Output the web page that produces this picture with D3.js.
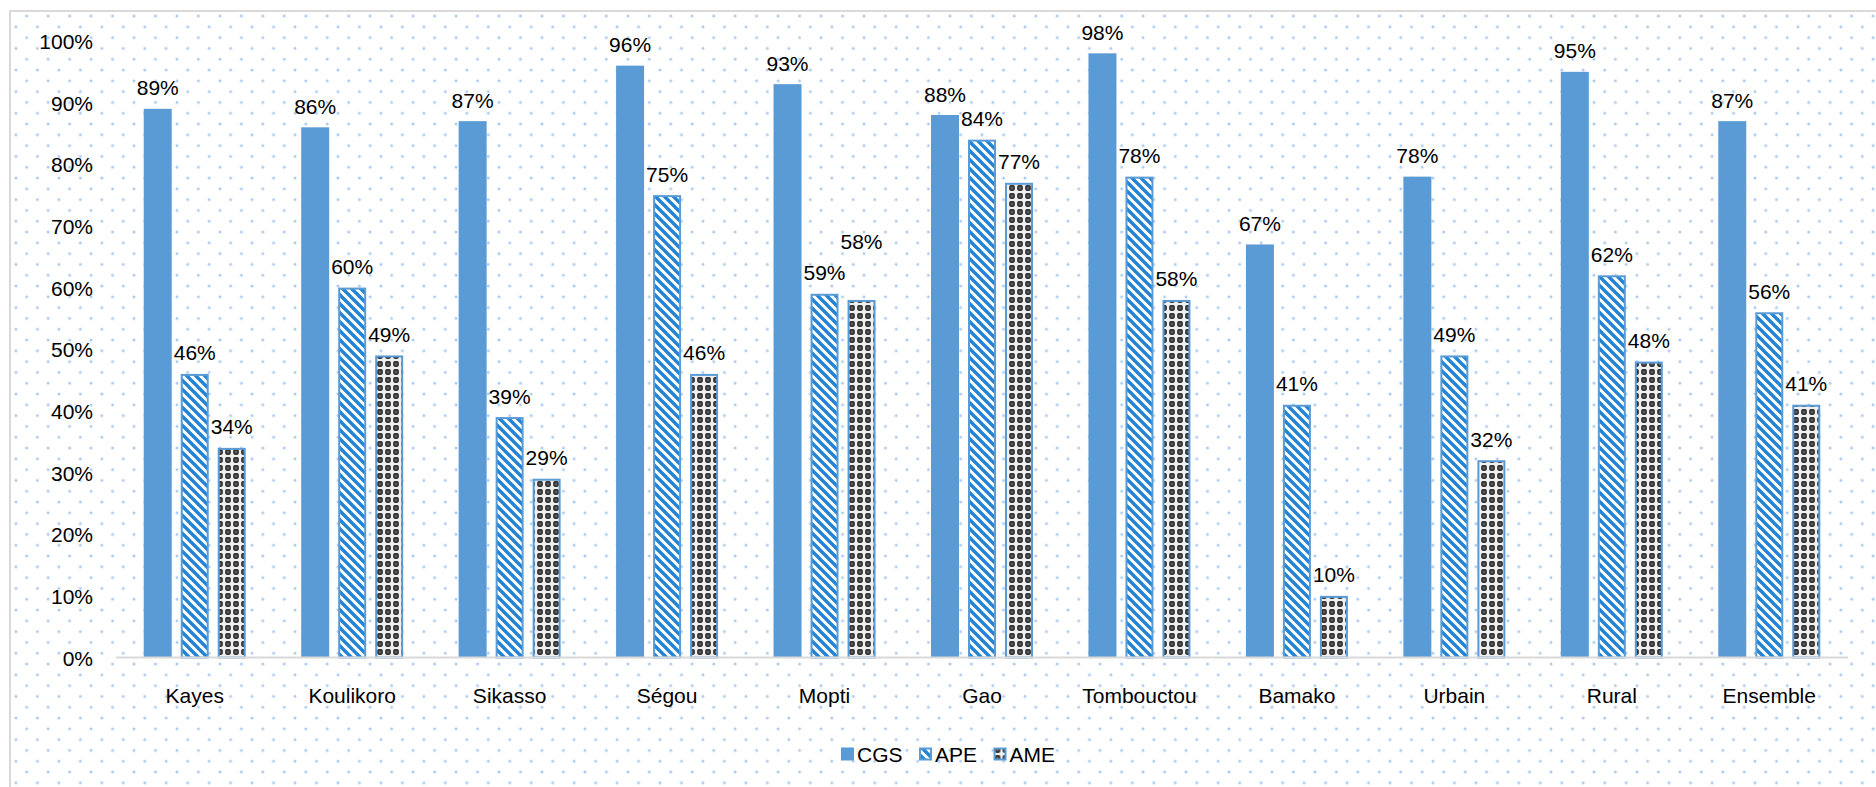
<!DOCTYPE html>
<html>
<head>
<meta charset="utf-8">
<script src="https://cdn.jsdelivr.net/npm/d3@7"></script>
<style>
  html, body { margin: 0; padding: 0; background: #ffffff; }
  svg { display: block; }
  text { font-family: "Liberation Sans", Arial, sans-serif; font-size: 21px; fill: #000; }
</style>
</head>
<body>
<svg id="chart" width="1876" height="787"></svg>
<script>
// Regions / groupings shown on the x axis
const categories = ["Kayes", "Koulikoro", "Sikasso", "Ségou", "Mopti", "Gao",
                    "Tombouctou", "Bamako", "Urbain", "Rural", "Ensemble"];
const seriesNames = ["CGS", "APE", "AME"];

// Percentages per series, in category order
const cgsValues = [89, 86, 87, 96, 93, 88, 98, 67, 78, 95, 87];
const apeValues = [46, 60, 39, 75, 59, 84, 78, 41, 49, 62, 56];
const ameValues = [34, 49, 29, 46, 58, 77, 58, 10, 32, 48, 41];

const yTicks = [0, 10, 20, 30, 40, 50, 60, 70, 80, 90, 100];

const seriesValues = { CGS: cgsValues, APE: apeValues, AME: ameValues };

const W = 1876, H = 787;
const plot = { left: 116, right: 1848, top: 41, bottom: 657.5 };
const blue = "#5b9bd5";

const svg = d3.select("#chart");
const defs = svg.append("defs");

// Dotted background texture of the chart area
const dots = defs.append("pattern")
  .attr("id", "bgDots")
  .attr("patternUnits", "userSpaceOnUse")
  .attr("x", 5.2).attr("y", 16)
  .attr("width", 21.47).attr("height", 21.6);
[[0, 0], [21.47, 0], [0, 21.6], [21.47, 21.6], [10.735, 10.8]].forEach(([cx, cy]) => {
  dots.append("circle").attr("cx", cx).attr("cy", cy).attr("r", 1.5).attr("fill", "#accbee");
});

// Wide downward diagonal stripes (APE)
const stripes = defs.append("pattern")
  .attr("id", "apeFill")
  .attr("patternUnits", "userSpaceOnUse")
  .attr("width", 9).attr("height", 9);
stripes.append("rect").attr("width", 9).attr("height", 9).attr("fill", "#ffffff");
stripes.append("path")
  .attr("d", "M-2,-2 L11,11 M-2,7 L2,11 M7,-2 L11,2")
  .attr("stroke", "#2383d4").attr("stroke-width", 3.4).attr("fill", "none");

// Dark weave: rounded dark cells separated by white crosses (AME)
const weave = defs.append("pattern")
  .attr("id", "ameFill")
  .attr("patternUnits", "userSpaceOnUse")
  .attr("width", 8).attr("height", 8);
weave.append("rect").attr("width", 8).attr("height", 8).attr("fill", "#f0f0f0");
weave.append("rect").attr("x", 1.1).attr("y", 1.1).attr("width", 5.8).attr("height", 5.8)
  .attr("rx", 1.8).attr("fill", "#363636");
weave.append("circle").attr("cx", 4).attr("cy", 4).attr("r", 0.9).attr("fill", "#777777");

const fills = { CGS: blue, APE: "url(#apeFill)", AME: "url(#ameFill)" };

// Chart area with border (extends past the right and bottom edges)
svg.append("rect")
  .attr("x", 10).attr("y", 11)
  .attr("width", W + 20).attr("height", H + 20)
  .attr("fill", "#ffffff");
svg.append("rect")
  .attr("x", 10).attr("y", 11)
  .attr("width", W + 20).attr("height", H + 20)
  .attr("fill", "url(#bgDots)")
  .attr("stroke", "#d9d9d9").attr("stroke-width", 2);

// Scales
const x = d3.scaleBand().domain(categories).range([plot.left, plot.right]).padding(0);
const bw = x.bandwidth();
const xs = d3.scaleBand().domain(seriesNames)
  .range([bw / 2 - 51, bw / 2 + 51])
  .paddingInner(9 / 37).paddingOuter(0);
const y = d3.scaleLinear().domain([0, 100]).range([plot.bottom, plot.top]);

// Y axis labels (no axis line, no ticks)
const yAxis = d3.axisLeft(y).tickValues(yTicks).tickFormat(d => d + "%").tickSize(0).tickPadding(0);
const yg = svg.append("g").attr("transform", "translate(93,0)").call(yAxis);
yg.select(".domain").remove();
yg.selectAll("text")
  .attr("font-family", null).attr("font-size", null)
  .attr("fill", "#000").attr("dy", "0.36em").attr("x", 0);

// Bars
const rows = [];
categories.forEach((c, i) => {
  seriesNames.forEach(s => rows.push({ cat: c, series: s, value: seriesValues[s][i] }));
});

const barW = xs.bandwidth();
svg.append("g").selectAll("rect")
  .data(rows)
  .join("rect")
  .attr("x", d => x(d.cat) + xs(d.series) + (d.series === "CGS" ? 0 : 1))
  .attr("y", d => y(d.value) + (d.series === "CGS" ? 0 : 1))
  .attr("width", d => barW - (d.series === "CGS" ? 0 : 2))
  .attr("height", d => y(0) - y(d.value) - (d.series === "CGS" ? 0 : 1))
  .attr("fill", d => fills[d.series])
  .attr("stroke", d => d.series === "CGS" ? "none" : blue)
  .attr("stroke-width", 2);

// X axis baseline
svg.append("line")
  .attr("x1", plot.left).attr("x2", plot.right)
  .attr("y1", y(0)).attr("y2", y(0))
  .attr("stroke", "#d9d9d9").attr("stroke-width", 2);

// Category labels
const xAxis = d3.axisBottom(x).tickSize(0).tickPadding(0);
const xg = svg.append("g").attr("transform", `translate(0,${y(0)})`).call(xAxis);
xg.select(".domain").remove();
xg.selectAll("text")
  .attr("font-family", null).attr("font-size", null)
  .attr("fill", "#000").attr("y", 37.5).attr("dy", "0.36em");

// Value labels above each bar; one label lifted clear of its neighbour
const labelLift = { "Mopti|AME": 37 };
svg.append("g").selectAll("text")
  .data(rows)
  .join("text")
  .attr("x", d => x(d.cat) + xs(d.series) + barW / 2)
  .attr("y", d => y(d.value) - 21 - (labelLift[d.cat + "|" + d.series] || 0))
  .attr("dy", "0.36em")
  .attr("text-anchor", "middle")
  .text(d => d.value + "%");

// Legend
const legend = svg.append("g");
let lx = 0;
seriesNames.forEach((s, i) => {
  const item = legend.append("g").attr("transform", `translate(${lx},0)`);
  item.append("rect")
    .attr("x", 1).attr("y", -5.5).attr("width", 11).attr("height", 11)
    .attr("fill", fills[s])
    .attr("stroke", blue).attr("stroke-width", 2);
  const t = item.append("text").attr("x", 16).attr("dy", "0.36em").text(s);
  lx += 16 + t.node().getComputedTextLength() + 16.5;
});
const legendW = lx - 16.5;
legend.attr("transform", `translate(${948 - legendW / 2},754)`);
</script>
</body>
</html>
